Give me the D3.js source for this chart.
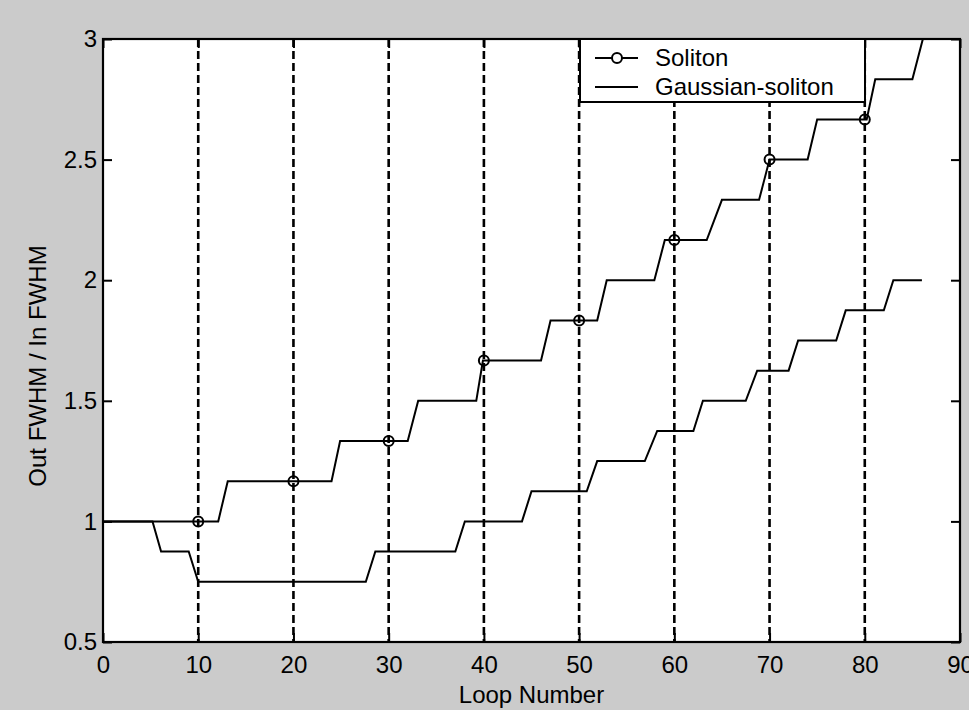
<!DOCTYPE html>
<html>
<head>
<meta charset="utf-8">
<script src="https://cdn.jsdelivr.net/npm/d3@7"></script>
<style>
  body { margin:0; background:#cbcbcb; }
  text { font-family:"Liberation Sans", Arial, sans-serif; fill:#000; }
</style>
</head>
<body>
<svg id="chart"></svg>
<script>
// soliton curve, loop number vs width ratio
var solitonLoop = [0,12.1,13.1,24,24.9,32,33.1,39.2,39.9,46,47,51.9,52.9,57.9,59,63.4,65,68.9,70,74,75,80.2,81.1,85,86.1];
var solitonVal  = [1,1,7/6,7/6,4/3,4/3,1.5,1.5,5/3,5/3,11/6,11/6,2,2,13/6,13/6,7/3,7/3,2.5,2.5,8/3,8/3,17/6,17/6,3];
// markers every 10 loops
var markerLoop = [10,20,30,40,50,60,70,80];
var markerVal  = [1,7/6,4/3,5/3,11/6,13/6,2.5,8/3];
// gaussian-soliton curve
var gaussLoop = [0,5.2,6.1,9,10,27.6,28.6,37,38,44,45,50.8,51.9,56.9,58.2,62,63,67.5,68.7,72,73,77,78,82,83,86];
var gaussVal  = [1,1,0.875,0.875,0.75,0.75,0.875,0.875,1,1,1.125,1.125,1.25,1.25,1.375,1.375,1.5,1.5,1.625,1.625,1.75,1.75,1.875,1.875,2,2];
var xTicks = [0,10,20,30,40,50,60,70,80,90];
var yTicks = [0.5,1,1.5,2,2.5,3];
var gridLoops = [10,20,30,40,50,60,70,80];
var legendNames = ["Soliton","Gaussian-soliton"];

var W = 969, H = 710;
var margins = {top:39, bottom:68, left:103, right:9};
var width = W - margins.left - margins.right;
var height = H - margins.top - margins.bottom;

var svg = d3.select("#chart").attr("width",W).attr("height",H);

svg.append("rect").attr("width",W).attr("height",H).attr("fill","#cbcbcb");

var xScale = d3.scaleLinear().domain([0,90]).range([0,width]);
var yScale = d3.scaleLinear().domain([0.5,3]).range([height,0]);

var g = svg.append("g").attr("transform","translate("+margins.left+","+margins.top+")");

g.append("rect").attr("width",width).attr("height",height).attr("fill","#fff");

g.append("clipPath").attr("id","clip")
 .append("rect").attr("width",width).attr("height",height);

var plot = g.append("g").attr("clip-path","url(#clip)");

// dashed verticals
plot.selectAll(".vgrid").data(gridLoops).enter().append("line")
    .attr("class","vgrid")
    .attr("x1",function(d){return xScale(d)}).attr("x2",function(d){return xScale(d)})
    .attr("y1",0).attr("y2",height)
    .attr("stroke","#000").attr("stroke-width",2.6)
    .attr("stroke-dasharray","8,4");

var drawLine = d3.line()
    .x(function(d){return xScale(d[0])})
    .y(function(d){return yScale(d[1])});

var solData = solitonLoop.map(function(d,i){return [d,solitonVal[i]]});
var gauData = gaussLoop.map(function(d,i){return [d,gaussVal[i]]});

plot.append("path").datum(gauData).attr("d",drawLine)
    .attr("fill","none").attr("stroke","#000").attr("stroke-width",2);
plot.append("path").datum(solData).attr("d",drawLine)
    .attr("fill","none").attr("stroke","#000").attr("stroke-width",2);

plot.selectAll(".mark").data(markerLoop).enter().append("circle")
    .attr("class","mark")
    .attr("cx",function(d){return xScale(d)})
    .attr("cy",function(d,i){return yScale(markerVal[i])})
    .attr("r",5).attr("fill","none").attr("stroke","#000").attr("stroke-width",2);

// axes: inward ticks on all four sides
var fs = "24px";
var xAxis = d3.axisBottom(xScale).tickValues(xTicks).tickSizeInner(-9).tickSizeOuter(0).tickPadding(14);
var gx = g.append("g").attr("transform","translate(0,"+height+")").call(xAxis);
gx.selectAll("text").style("font-size",fs).attr("fill","#000");

var yAxis = d3.axisLeft(yScale).tickValues(yTicks).tickFormat(function(d){return String(d)})
              .tickSizeInner(-9).tickSizeOuter(0).tickPadding(6);
var gy = g.append("g").call(yAxis);
gy.selectAll("text").style("font-size",fs).attr("fill","#000");

g.append("g").call(d3.axisTop(xScale).tickValues(xTicks).tickSizeInner(-9).tickSizeOuter(0).tickFormat(""));
g.append("g").attr("transform","translate("+width+",0)")
 .call(d3.axisRight(yScale).tickValues(yTicks).tickSizeInner(-9).tickSizeOuter(0).tickFormat(""));

g.selectAll(".tick line").attr("stroke","#000").attr("stroke-width",2);
g.selectAll(".domain").remove();

g.append("rect").attr("width",width).attr("height",height)
 .attr("fill","none").attr("stroke","#000").attr("stroke-width",2.2);

// labels
svg.append("text").attr("x",margins.left+width/2).attr("y",703)
   .attr("text-anchor","middle").style("font-size",fs).text("Loop Number");
svg.append("text").attr("transform","translate(46,366) rotate(-90)")
   .attr("text-anchor","middle").style("font-size",fs).text("Out FWHM / In FWHM");

// legend
var leg = svg.append("g").attr("transform","translate(580,39)");
leg.append("rect").attr("width",285).attr("height",63)
   .attr("fill","#fff").attr("stroke","#000").attr("stroke-width",2);
legendNames.forEach(function(name,i){
  var yy = 19 + i*29;
  leg.append("line").attr("x1",15).attr("x2",58).attr("y1",yy).attr("y2",yy)
     .attr("stroke","#000").attr("stroke-width",2);
  if(i==0){
    leg.append("circle").attr("cx",37).attr("cy",yy).attr("r",5)
       .attr("fill","#fff").attr("stroke","#000").attr("stroke-width",2);
  }
  leg.append("text").attr("x",75).attr("y",yy+8).style("font-size",fs).text(name);
});
</script>
</body>
</html>
